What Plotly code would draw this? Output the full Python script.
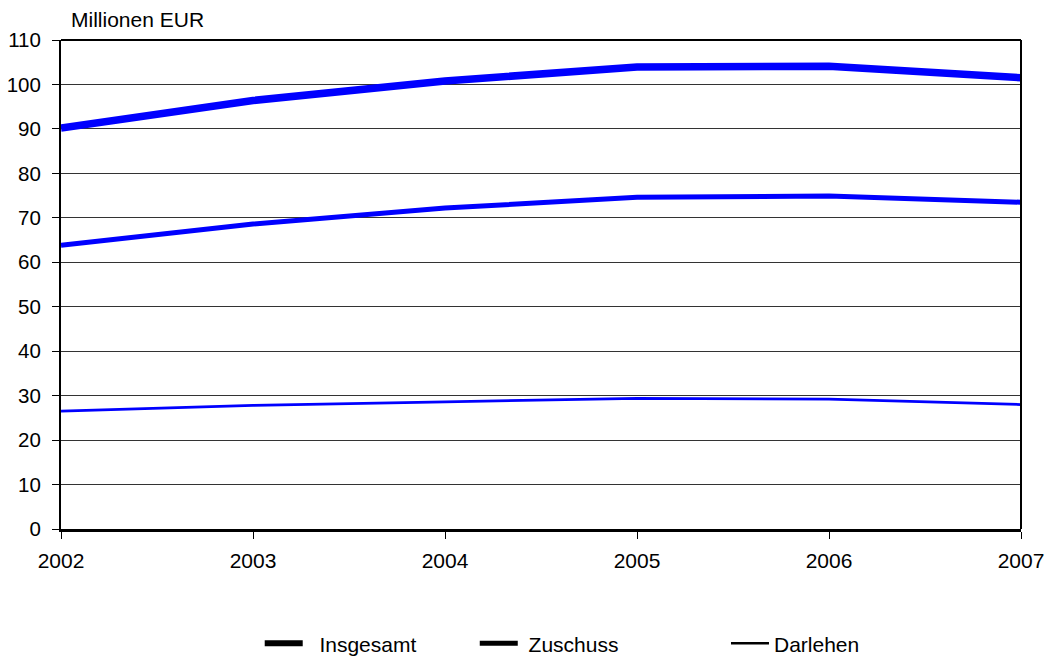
import plotly.graph_objects as go

years = [2002, 2003, 2004, 2005, 2006, 2007]
insgesamt = [90.2, 96.4, 100.8, 103.9, 104.1, 101.5]
zuschuss = [63.8, 68.6, 72.2, 74.6, 74.9, 73.5]
darlehen = [26.5, 27.8, 28.6, 29.4, 29.2, 28.0]

names = ["Insgesamt", "Zuschuss", "Darlehen"]
legend_labels = ["\u00a0\u00a0Insgesamt", "\u00a0Zuschuss", "Darlehen"]
widths = [7.5, 5, 2.8]
legend_widths = [6, 5, 2.5]
series = [insgesamt, zuschuss, darlehen]
legend_ids = ["legend", "legend2", "legend3"]
legend_x = [0.207, 0.431, 0.6927]

BLUE = "#0000FF"
FONT = "Liberation Sans"

fig = go.Figure()
for name, vals, w in zip(names, series, widths):
    fig.add_trace(go.Scatter(x=years, y=vals, mode="lines", name=name,
                             line=dict(color=BLUE, width=w), showlegend=False,
                             hoverinfo="x+y+name"))
for label, lw, lid in zip(legend_labels, legend_widths, legend_ids):
    fig.add_trace(go.Scatter(x=[None], y=[None], mode="lines", name=label,
                             line=dict(color="black", width=lw), showlegend=True,
                             legend=lid))

legend_common = dict(orientation="h", yanchor="middle", y=-0.2346, xanchor="left",
                     font=dict(family=FONT, size=21, color="black"),
                     bgcolor="rgba(0,0,0,0)", itemwidth=38)
fig.update_layout(
    width=1051, height=657,
    margin=dict(l=61, r=30, t=40, b=128, autoexpand=False),
    paper_bgcolor="white", plot_bgcolor="white",
    font=dict(family=FONT, size=20, color="black"),
    legend=dict(x=legend_x[0], **legend_common),
    legend2=dict(x=legend_x[1], **legend_common),
    legend3=dict(x=legend_x[2], **legend_common),
    xaxis=dict(range=[2002, 2007], tickmode="array", tickvals=years,
               ticktext=[str(y) for y in years], showgrid=False, zeroline=False,
               showline=True, linecolor="black", linewidth=3, automargin=False,
               ticks="outside", ticklen=7, tickcolor="black", tickwidth=1,
               tickfont=dict(family=FONT, size=21), ticklabelstandoff=4),
    yaxis=dict(range=[0, 110], dtick=10, showgrid=True, gridcolor="#333333", gridwidth=1,
               zeroline=False, showline=True, linecolor="black", linewidth=2, automargin=False,
               ticks="outside", ticklen=7, tickcolor="black", tickwidth=1,
               tickfont=dict(family=FONT, size=20.5), ticklabelstandoff=7),
    annotations=[dict(text="Millionen EUR", x=0.008, y=1.0, xref="paper", yref="paper",
                      xanchor="left", yanchor="middle", yshift=21, showarrow=False,
                      font=dict(family=FONT, size=21, color="black"))],
    shapes=[
        dict(type="line", xref="paper", yref="paper", x0=0, x1=1, y0=1, y1=1,
             line=dict(color="black", width=2)),
        dict(type="line", xref="paper", yref="paper", x0=1, x1=1, y0=0, y1=1,
             line=dict(color="black", width=2)),
    ],
)

fig.write_html("out.html", config={"displayModeBar": False},
               post_script="document.body.style.margin='0';")
